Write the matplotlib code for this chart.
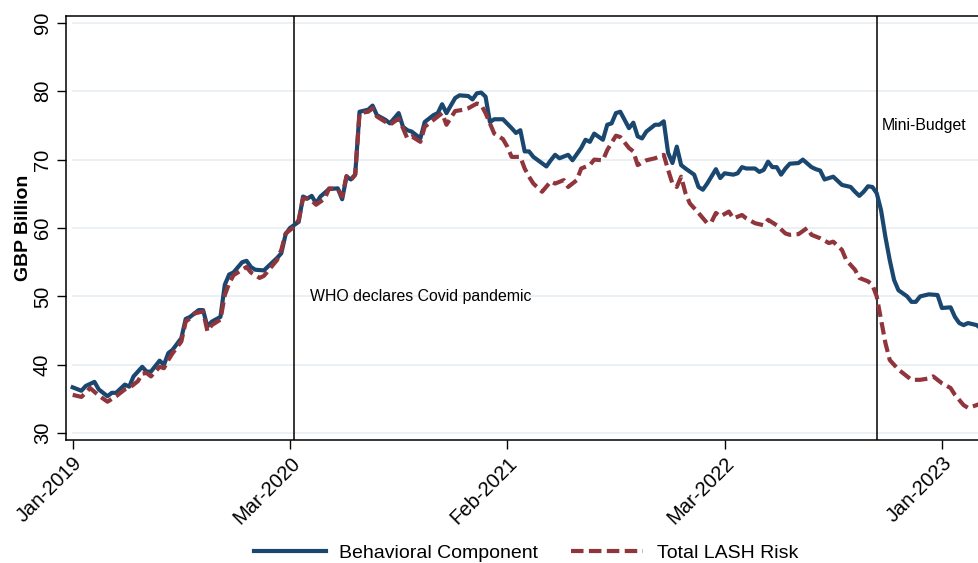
import numpy as np
import matplotlib

matplotlib.use("Agg")
import matplotlib.pyplot as plt

# weekly observations, x = observation number
blue_obs = [0, 2, 3, 5, 6, 8, 9, 10, 12, 13, 14, 16, 17, 18, 20, 21, 22, 23, 25, 26,
            27, 29, 30, 31, 32, 34, 35, 36, 37, 39, 40, 41, 42, 44, 47, 48, 49, 50, 52, 53,
            54, 55, 56, 57, 59, 61, 62, 63, 64, 65, 66, 68, 69, 70, 72, 73, 75, 76, 77, 78,
            80, 81, 83, 84, 85, 86, 88, 89, 91, 92, 93, 94, 95, 96, 97, 99, 101, 102, 103, 104,
            105, 106, 109, 110, 111, 112, 114, 115, 117, 118, 119, 120, 122, 123, 124, 125, 126, 127, 128, 129,
            130, 131, 132, 134, 135, 136, 137, 138, 139, 140, 141, 143, 144, 145, 146, 148, 149, 150, 152, 153,
            154, 155, 157, 158, 159, 160, 161, 162, 163, 164, 165, 167, 168, 170, 171, 172, 173, 174, 175, 176,
            177, 179, 180, 181, 182, 183, 184, 185, 186, 187, 188, 189, 190, 192, 193, 194, 195, 197, 199, 200,
            202, 203, 204, 205, 206, 208, 209]
behavioral = [36.7, 36.2, 36.9, 37.5, 36.4, 35.4, 35.9, 35.9, 37.1, 36.8, 38.3, 39.7, 39.0, 39.0, 40.6, 40.0, 41.7, 42.2, 43.9, 46.7,
              47.0, 48.0, 48.0, 45.6, 46.3, 47.0, 51.7, 53.2, 53.5, 55.0, 55.2, 54.3, 53.9, 53.8, 55.6, 56.3, 59.1, 60.0, 60.9, 64.6,
              64.3, 64.7, 63.6, 64.6, 65.7, 65.8, 64.2, 67.5, 67.1, 67.8, 77.0, 77.3, 77.9, 76.5, 75.8, 75.3, 76.8, 74.8, 74.3, 74.1,
              73.1, 75.5, 76.5, 76.8, 78.1, 76.8, 79.0, 79.4, 79.3, 78.8, 79.7, 79.8, 79.2, 75.5, 75.9, 75.9, 74.6, 73.9, 74.3, 71.2,
              71.2, 70.4, 69.0, 69.9, 70.7, 70.2, 70.7, 69.9, 71.7, 72.9, 72.6, 73.8, 72.9, 75.1, 75.3, 76.8, 77.0, 75.8, 74.6, 75.4,
              73.4, 73.1, 74.1, 75.1, 75.1, 75.6, 71.0, 69.5, 71.9, 69.2, 68.7, 67.8, 66.0, 65.6, 66.5, 68.6, 67.3, 68.0, 67.8, 68.0,
              68.9, 68.7, 68.7, 68.2, 68.5, 69.7, 68.9, 68.9, 67.8, 68.7, 69.4, 69.5, 70.0, 68.9, 68.6, 68.4, 67.1, 67.3, 67.5, 66.9,
              66.3, 66.0, 65.3, 64.7, 65.3, 66.1, 66.0, 65.1, 62.6, 58.7, 55.3, 52.4, 50.9, 50.0, 49.2, 49.2, 50.0, 50.3, 50.2, 48.3,
              48.4, 47.0, 46.1, 45.8, 46.1, 45.8, 45.3]

red_obs = [0, 2, 3, 4, 6, 8, 10, 11, 12, 13, 15, 16, 17, 18, 20, 21, 22, 23, 25, 26,
           27, 28, 30, 31, 32, 34, 35, 36, 37, 39, 40, 41, 43, 44, 47, 48, 49, 51, 52, 53,
           54, 55, 56, 58, 59, 61, 62, 63, 64, 65, 66, 68, 69, 70, 72, 73, 75, 76, 77, 78,
           80, 81, 83, 84, 85, 86, 88, 90, 91, 93, 94, 95, 96, 97, 99, 100, 101, 103, 104, 105,
           106, 108, 110, 111, 113, 114, 116, 117, 119, 120, 122, 123, 125, 126, 128, 129, 130, 132, 134, 136,
           137, 138, 139, 140, 141, 142, 144, 146, 147, 148, 149, 151, 152, 154, 155, 157, 159, 160, 162, 164,
           165, 167, 169, 170, 172, 174, 175, 177, 178, 180, 181, 183, 184, 185, 186, 187, 188, 190, 191, 193,
           195, 197, 198, 200, 202, 203, 205, 206, 208, 209]
total_lash = [35.6, 35.3, 35.9, 36.6, 35.5, 34.6, 35.4, 35.9, 36.4, 36.6, 37.6, 38.7, 38.8, 38.3, 39.7, 39.5, 40.7, 41.7, 43.4, 46.3,
              46.8, 47.5, 47.8, 44.9, 45.8, 46.6, 50.2, 51.9, 53.1, 53.9, 54.3, 53.5, 52.7, 53.0, 55.3, 56.8, 59.2, 60.2, 61.2, 64.3,
              64.3, 64.0, 63.4, 64.3, 65.8, 65.7, 64.6, 67.6, 67.0, 67.8, 76.8, 77.0, 77.5, 76.3, 75.5, 75.1, 76.0, 74.6, 73.1, 73.4,
              72.6, 74.8, 75.8, 76.3, 76.8, 75.1, 77.1, 77.3, 77.5, 78.2, 78.0, 76.8, 75.3, 73.8, 73.0, 71.9, 70.4, 70.4, 68.7, 67.5,
              66.5, 65.3, 66.8, 66.5, 67.0, 66.0, 67.0, 68.7, 69.2, 70.0, 69.9, 71.4, 73.5, 73.3, 71.7, 71.2, 69.2, 69.9, 70.2, 70.7,
              68.5, 66.5, 66.0, 67.5, 65.1, 63.6, 62.2, 60.7, 60.9, 62.2, 61.7, 62.4, 61.4, 61.9, 61.4, 60.7, 60.4, 61.2, 60.4, 59.2,
              59.0, 59.1, 60.0, 59.0, 58.5, 57.8, 58.0, 56.8, 55.3, 53.9, 52.7, 52.2, 51.7, 50.0, 46.6, 43.2, 40.7, 39.3, 38.8, 37.8,
              37.8, 38.0, 38.3, 37.3, 36.6, 35.6, 34.1, 33.7, 34.1, 34.4]

tick_obs = [0, 50, 100, 150, 200]
tick_labels = ["Jan-2019", "Mar-2020", "Feb-2021", "Mar-2022", "Jan-2023"]
y_ticks = [30, 40, 50, 60, 70, 80, 90]

events_obs = [51, 185]
event_labels = ["WHO declares Covid pandemic", "Mini-Budget"]
event_text_pos = [(54.6, 50), (186.2, 75)]

NAVY = "#1a476f"
MAROON = "#90353b"

plt.rcParams["font.family"] = ["Liberation Sans", "DejaVu Sans"]


def main():
    fig = plt.figure(figsize=(9.79, 5.63), dpi=100)
    # plot region runs past the right edge of the image
    ax = fig.add_axes([66 / 979, 1 - 440 / 563, (1010 - 66) / 979, 424 / 563])

    for y in y_ticks:
        ax.plot([0, 260], [y, y], color="#e6eef1", lw=1.2, zorder=0)

    ax.plot(blue_obs, behavioral, color=NAVY, lw=3.0, label="Behavioral Component",
            solid_joinstyle="round", zorder=3)
    ax.plot(red_obs, total_lash, color=MAROON, lw=3.0, ls=(0, (3.0, 1.3)),
            label="Total LASH Risk", zorder=4)

    for xo in events_obs:
        ax.axvline(xo, color="black", lw=1.1, zorder=2)
    for (tx, ty), s in zip(event_text_pos, event_labels):
        ax.text(tx, ty, s, fontsize=11.4, va="center", ha="left", color="black")

    ax.set_xlim(-1.54, -1.54 + (1010 - 66) / 4.346)
    ax.set_ylim(29.0, 91.0)
    ax.set_xticks(tick_obs)
    ax.set_xticklabels(tick_labels, rotation=45, ha="right", va="top",
                       rotation_mode="anchor", fontsize=14.5)
    ax.set_yticks(y_ticks)
    ax.set_yticklabels([str(v) for v in y_ticks], rotation=90, va="center", fontsize=14.5)
    ax.tick_params(axis="both", direction="out", length=6.5, width=1.0, color="black")
    ax.tick_params(axis="y", pad=3.6)
    ax.tick_params(axis="x", pad=3)
    for sp in ax.spines.values():
        sp.set_linewidth(1.1)
        sp.set_color("black")

    ax.set_ylabel("GBP Billion", fontsize=14, fontweight="bold")
    ax.yaxis.set_label_coords(-0.036, 0.5)

    fig.legend(loc="center", bbox_to_anchor=(526 / 979, 0.018), ncol=2, frameon=False,
               fontsize=14, handlelength=3.7, handletextpad=0.7, columnspacing=1.7)

    fig.savefig("out.png", dpi=100, facecolor="white")


if __name__ == "__main__":
    main()
